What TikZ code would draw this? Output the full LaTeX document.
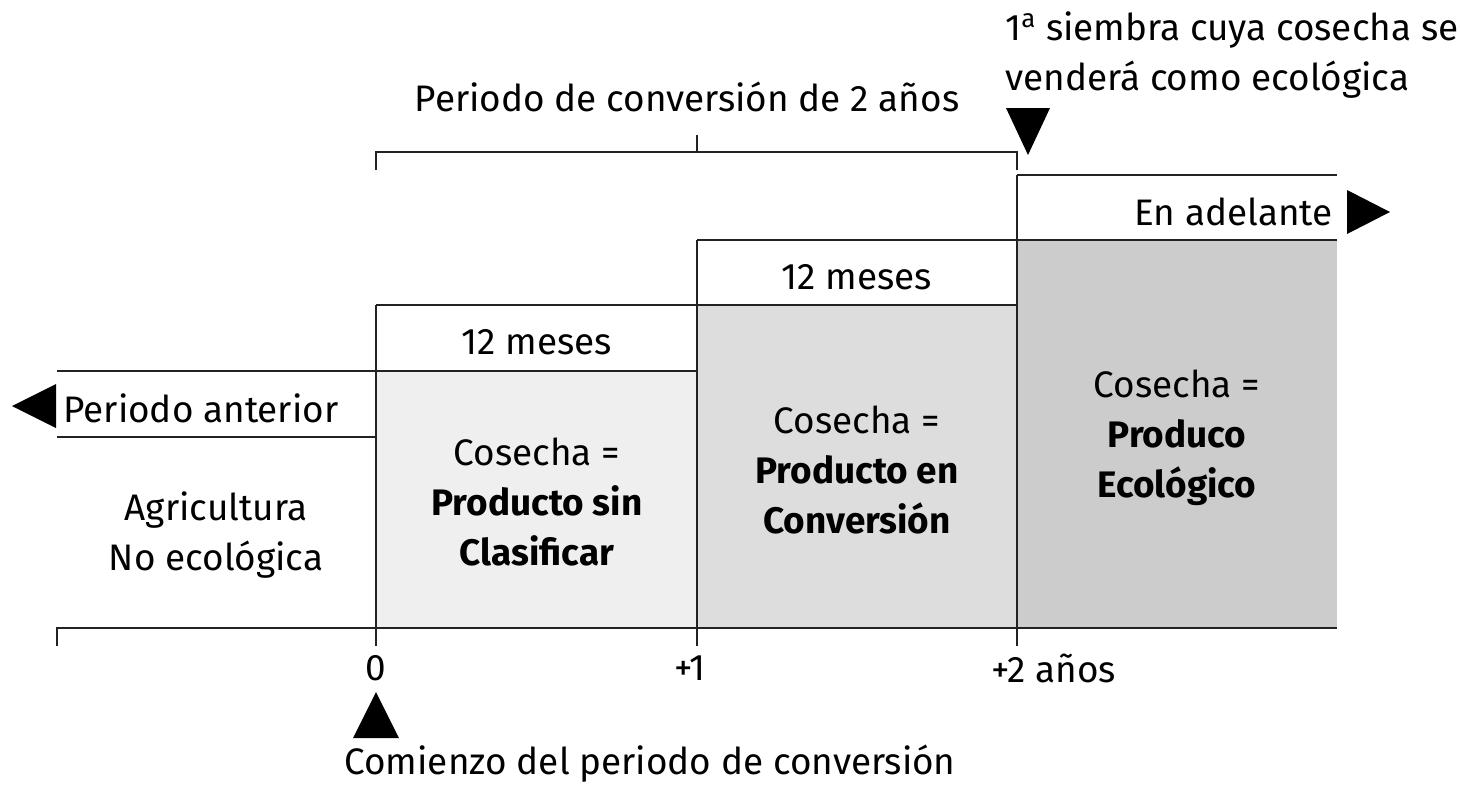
\documentclass[tikz,border=0pt]{standalone}
\usepackage{fontspec}
\setmainfont{Fira Sans}
\definecolor{fillone}{HTML}{EFEFEF}
\definecolor{filltwo}{HTML}{DDDDDD}
\definecolor{fillthree}{HTML}{CCCCCC}
\definecolor{ink}{HTML}{222222}
\begin{document}
\begin{tikzpicture}[x=0.02cm,y=-0.02cm,line width=1.5pt,font=\fontsize{21}{28.5}\selectfont, line join=miter, line cap=butt,
	lbl/.style={text=black,inner sep=0pt,align=center},
	mark tri/.style={fill=black}]
	\useasboundingbox (0,0) rectangle (1460,785);
	% coordinates of the time axis
	\coordinate (L) at (57,628);
	\coordinate (Y0) at (376,628);
	\coordinate (Y1) at (697,628);
	\coordinate (Y2) at (1017,628);
	\coordinate (R) at (1337,628);
	% shaded stages
	\fill[fillone] (376,371) rectangle (697,628);
	\fill[filltwo] (697,305) rectangle (1017,628);
	\fill[fillthree] (1017,240) rectangle (1337,628);
	% bands
	\draw[ink] (57,437) -- (376,437);
	\draw[ink] (57,371) -- (697,371);
	\draw[ink] (376,305) -- (1017,305);
	\draw[ink] (697,240) -- (1337,240);
	\draw[ink] (1017,175) -- (1337,175);
	% verticals and axis
	\draw[ink] (376,305) -- (376,646);
	\draw[ink] (697,240) -- (697,646);
	\draw[ink] (1017,175) -- (1017,646);
	\draw[ink] (57,646) -- (L) -- (R);
	% bracket of the conversion period
	\draw[ink] (376,170) -- (376,152) -- (1017,152) -- (1017,170) (697,152) -- (697,135);
	% markers
	\fill[mark tri] (12,406) -- (56,384) -- (56,428) -- cycle;
	\fill[mark tri] (1390,212) -- (1347,190) -- (1347,234) -- cycle;
	\fill[mark tri] (1028,155) -- (1006,108) -- (1050,108) -- cycle;
	\fill[mark tri] (376,692) -- (353,738) -- (399,738) -- cycle;
	% labels
	\node[lbl] (conv) at (687,97) {Periodo de conversión de 2 años};
	\node[lbl,align=left,anchor=west] (siembra) at (1004,55) {1\textsuperscript{a} siembra cuya cosecha se\\venderá como ecológica};
	\node[lbl,anchor=east] (adelante) at (1334,212) {En adelante};
	\node[lbl] (mesesA) at (537,342) {12 meses};
	\node[lbl] (mesesB) at (857,277) {12 meses};
	\node[lbl,anchor=west] (anterior) at (62,408) {Periodo anterior};
	\node[lbl] (noeco) at (216,535) {Agricultura\\No ecológica};
	\node[lbl] (sinclas) at (537,502) {Cosecha =\\\textbf{Producto sin}\\\textbf{Clasificar}};
	\node[lbl] (enconv) at (857,470) {Cosecha =\\\textbf{Producto en}\\\textbf{Conversión}};
	\node[lbl] (eco) at (1177,438) {Cosecha =\\\textbf{Produco}\\\textbf{Ecológico}};
	\node[lbl] (t0) at (376,668) {0};
	\node[lbl] (t1) at (690,668) {+1};
	\node[lbl,anchor=west] (t2) at (990,668) {+2 años};
	\node[lbl] (comienzo) at (650,764) {Comienzo del periodo de conversión};
\end{tikzpicture}
\end{document}
